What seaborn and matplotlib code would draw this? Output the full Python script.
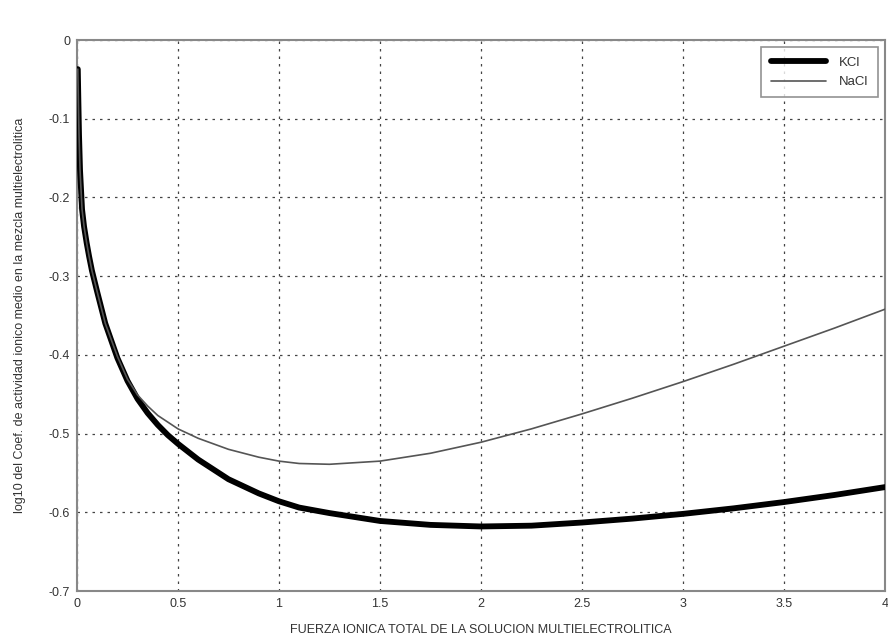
import matplotlib
matplotlib.use("Agg")
import matplotlib.pyplot as plt
import seaborn as sns
import pandas as pd

kcl_x = [0.004, 0.007, 0.01, 0.015, 0.025, 0.035, 0.048, 0.06, 0.074, 0.1, 0.14, 0.2, 0.25, 0.3,
         0.35, 0.4, 0.45, 0.5, 0.6, 0.75, 0.9, 1.0, 1.1, 1.25, 1.5, 1.75, 2.0, 2.25, 2.5, 2.75, 3.0,
         3.25, 3.5, 3.75, 4.0]
kcl_y = [-0.037, -0.08, -0.12, -0.165, -0.215, -0.237, -0.258, -0.275, -0.293, -0.32, -0.36, -0.404,
         -0.433, -0.456, -0.474, -0.489, -0.502, -0.513, -0.533, -0.558, -0.576, -0.586, -0.594,
         -0.601, -0.611, -0.616, -0.618, -0.617, -0.613, -0.608, -0.602, -0.595, -0.587, -0.578,
         -0.568]

nacl_x = [0.004, 0.007, 0.01, 0.015, 0.025, 0.035, 0.048, 0.06, 0.074, 0.1, 0.14, 0.2, 0.25, 0.3,
          0.35, 0.4, 0.5, 0.6, 0.75, 0.9, 1.0, 1.1, 1.25, 1.5, 1.75, 2.0, 2.25, 2.5, 2.75, 3.0,
          3.25, 3.5, 3.75, 4.0]
nacl_y = [-0.037, -0.08, -0.12, -0.165, -0.215, -0.237, -0.258, -0.275, -0.293, -0.32, -0.36, -0.402,
          -0.431, -0.451, -0.465, -0.477, -0.494, -0.506, -0.520, -0.530, -0.535, -0.538, -0.539,
          -0.535, -0.525, -0.511, -0.494, -0.475, -0.455, -0.434, -0.412, -0.389, -0.366, -0.342]

xticks = [0, 0.5, 1, 1.5, 2, 2.5, 3, 3.5, 4]
xticklabels = ["0", "0.5", "1", "1.5", "2", "2.5", "3", "3.5", "4"]
yticks = [0, -0.1, -0.2, -0.3, -0.4, -0.5, -0.6, -0.7]
yticklabels = ["0", "-0.1", "-0.2", "-0.3", "-0.4", "-0.5", "-0.6", "-0.7"]

sns.set_style("white")
plt.rcParams['font.family'] = ['Liberation Sans', 'DejaVu Sans']

fig = plt.figure(figsize=(8.88, 6.39), dpi=100)
ax = fig.add_axes([0.0867, 0.0751, 0.9099, 0.8623])

df_k = pd.DataFrame({"x": kcl_x, "y": kcl_y})
df_n = pd.DataFrame({"x": nacl_x, "y": nacl_y})
sns.lineplot(data=df_k, x="x", y="y", ax=ax, color="black", linewidth=4.2, label="KCl", zorder=3,
             solid_joinstyle="round", solid_capstyle="round")
sns.lineplot(data=df_n, x="x", y="y", ax=ax, color="#555555", linewidth=1.2, label="NaCl", zorder=4,
             solid_joinstyle="round")

ax.set_xlim(0, 4)
ax.set_ylim(-0.7, 0)
ax.set_xticks(xticks)
ax.set_xticklabels(xticklabels)
ax.set_yticks(yticks)
ax.set_yticklabels(yticklabels)
ax.grid(True, color="#444444", linestyle=(0, (2, 4)), linewidth=0.9)
ax.tick_params(direction="in", length=4, labelsize=9, colors="#333333", pad=5)
for s in ax.spines.values():
    s.set_color("#888888")
    s.set_linewidth(1.5)

ax.set_xlabel("FUERZA IONICA TOTAL DE LA SOLUCION MULTIELECTROLITICA", fontsize=9, color="#333333", labelpad=10)
ax.set_ylabel("log10 del Coef. de actividad ionico medio en la mezcla multielectrolitica", fontsize=9,
              color="#333333", labelpad=16)

leg = ax.legend(loc="upper right", fontsize=9.5, frameon=True, fancybox=False, handlelength=4.2,
                handletextpad=1.0, borderaxespad=0.55, borderpad=0.7, labelspacing=0.55)
leg.get_frame().set_edgecolor("#777777")
leg.get_frame().set_linewidth(1.2)
for t in leg.get_texts():
    t.set_color("#333333")

fig.savefig("out.png", dpi=100)
